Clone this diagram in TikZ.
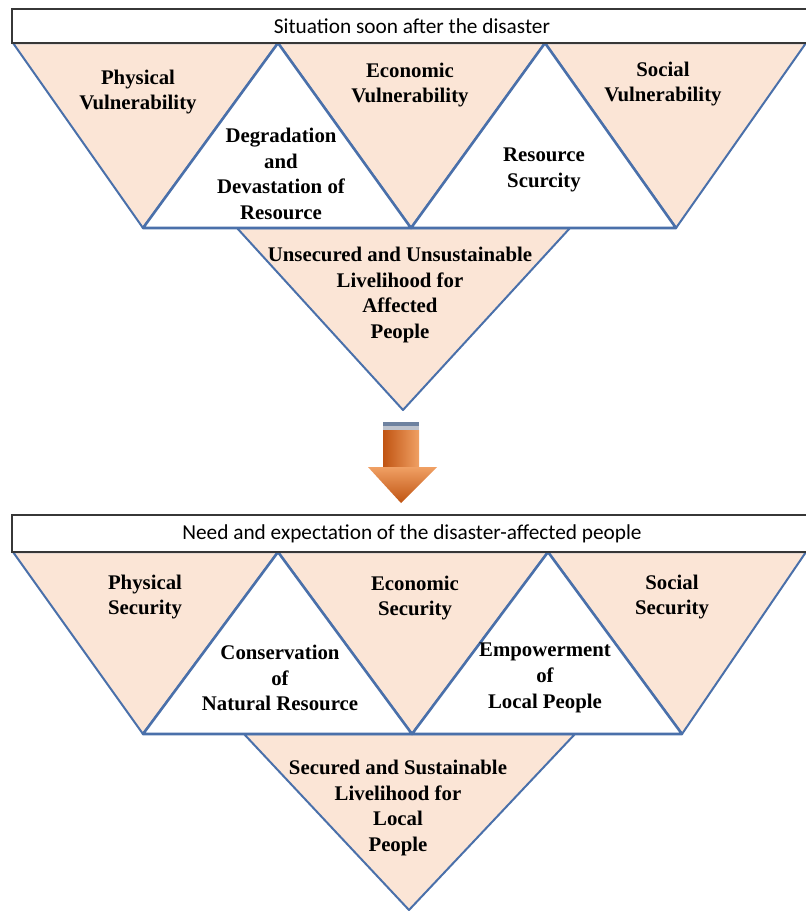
\documentclass[tikz,border=0pt]{standalone}
\usepackage{fontspec}
\setmainfont{Liberation Serif}
\newfontfamily\headfont{Carlito}
\definecolor{edgeblue}{RGB}{74,112,170}
\definecolor{peach}{RGB}{251,229,214}
\definecolor{headgrey}{RGB}{55,55,55}
\definecolor{arrowdark}{RGB}{192,84,18}
\definecolor{arrowlight}{RGB}{240,160,100}
\definecolor{stripeblue}{RGB}{110,130,160}
\definecolor{stripegrey}{RGB}{190,195,205}

\begin{document}
\begin{tikzpicture}[x=1pt, y=-1pt,
    header/.style={draw=headgrey, line width=2.6pt, fill=white, minimum width=800pt, inner sep=0pt, font=\headfont\fontsize{21.3}{24}\selectfont},
    down/.style={draw=edgeblue, line width=2pt, fill=peach, line join=round},
    up/.style={draw=edgeblue, line width=2.6pt, fill=white, line join=round},
    lbl/.style={align=center, inner sep=0pt, font=\bfseries\fontsize{20.8}{25.8}\selectfont}
]
    \useasboundingbox (0,0) rectangle (806,911);

    \draw[down] (237,228) -- (570,228) -- (403,410) -- cycle;
    \draw[down] (13,43) -- (278,43) -- (143,228) -- cycle;
    \draw[down] (278,43) -- (545,43) -- (411,228) -- cycle;
    \draw[down] (545,43) -- (806,43) -- (676,228) -- cycle;
    \draw[up] (143,228) -- (278,43) -- (411,228) -- cycle;
    \draw[up] (411,228) -- (545,43) -- (676,228) -- cycle;
    \node[header, minimum height=34pt] (sit) at (412,26) {Situation soon after the disaster};

    \node[lbl] (physv) at (138,92) {Physical\\Vulnerability};
    \node[lbl] (econv) at (410,85) {Economic\\Vulnerability};
    \node[lbl] (socv) at (663,84) {Social\\Vulnerability};
    \node[lbl] (degr) at (281,174) {Degradation\\and\\Devastation of\\Resource};
    \node[lbl] (scar) at (544,170) {Resource\\Scurcity};
    \node[lbl] (unsec) at (400,295) {Unsecured and Unsustainable\\Livelihood for\\Affected\\People};

    \fill[stripeblue] (383,422) rectangle (419,426);
    \fill[stripegrey] (383,426) rectangle (419,430);
    \shade[left color=arrowdark, right color=arrowlight] (383,430) rectangle (419,467);
    \shade[top color=arrowlight, bottom color=arrowdark] (368,467) -- (437,467) -- (401,503) -- cycle;

    \draw[down] (244,734) -- (575,734) -- (409,910) -- cycle;
    \draw[down] (13,552) -- (278,552) -- (143,734) -- cycle;
    \draw[down] (278,552) -- (548,552) -- (412,734) -- cycle;
    \draw[down] (548,552) -- (806,552) -- (682,734) -- cycle;
    \draw[up] (143,734) -- (278,552) -- (412,734) -- cycle;
    \draw[up] (412,734) -- (548,552) -- (682,734) -- cycle;
    \node[header, minimum height=37pt] (need) at (412,533.5) {Need and expectation of the disaster-affected people};

    \node[lbl] (physs) at (145,597) {Physical\\Security};
    \node[lbl] (econs) at (415,598) {Economic\\Security};
    \node[lbl] (socs) at (672,597) {Social\\Security};
    \node[lbl] (cons) at (280,678) {Conservation\\of\\Natural Resource};
    \node[lbl] (empw) at (545,678) {Empowerment\\of\\Local People};
    \node[lbl] (sec) at (398,808) {Secured and Sustainable\\Livelihood for\\Local\\People};
\end{tikzpicture}
\end{document}
